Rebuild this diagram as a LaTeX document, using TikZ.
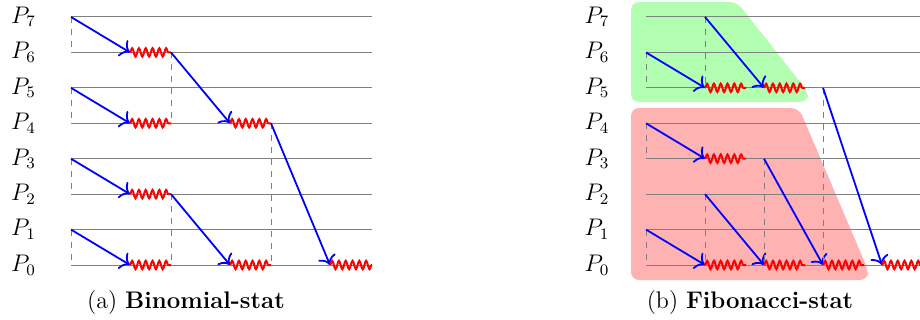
\documentclass[tikz,border=0pt]{standalone}
\usetikzlibrary{decorations.pathmorphing,arrows.meta}
\begin{document}
\begin{tikzpicture}[x=0.5pt,y=-0.5pt,font=\large,
  procline/.style={gray,line width=0.5pt},
  waitline/.style={gray,dashed,line width=0.5pt},
  msg/.style={blue,line width=0.9pt,-{To[scale=1.25]}},
  wave/.style={red,line width=1pt,decorate,decoration={snake,amplitude=2.1pt,segment length=3.4pt}},
  lbl/.style={inner sep=0pt},
  grp/.style={rounded corners=4pt}]
\clip (0,0) rectangle (920,320);
% rows
\foreach \i in {0,...,7} {\coordinate (r\i) at (0,{265-35.43*\i});}
% columns
\coordinate (xa0) at (71,0);  \coordinate (xa1) at (130,0); \coordinate (xa2) at (171,0);
\coordinate (xa3) at (230,0); \coordinate (xa4) at (271,0); \coordinate (xa5) at (330,0);
\coordinate (xa6) at (372,0);
\coordinate (xb0) at (646,0); \coordinate (xb1) at (705,0); \coordinate (xb1e) at (746,0);
\coordinate (xb2) at (764,0); \coordinate (xb2e) at (805,0); \coordinate (xb3) at (823,0);
\coordinate (xb3e) at (864,0); \coordinate (xb4) at (882,0); \coordinate (xb4e) at (923,0);
\coordinate (xbend) at (920,0);
% group backgrounds
\fill[green!30,grp] (631,2) -- (737,2) -- (808,92) -- (808,102) -- (631,102) -- cycle;
\fill[red!30,grp] (631,108) -- (799,108) -- (868,270) -- (868,280) -- (631,280) -- cycle;
% labels and process lines
\foreach \i in {0,...,7} {
  \node[lbl] (la\i) at (23.5,{265-35.43*\i}) {$P_{\i}$};
  \node[lbl] (lb\i) at (597,{265-35.43*\i}) {$P_{\i}$};
  \draw[procline] (xa0 |- r\i) -- (xa6 |- r\i);
  \draw[procline] (xb0 |- r\i) -- (xbend |- r\i);
}
% (a) binomial
\foreach \s/\t in {7/6,5/4,3/2,1/0} {
  \draw[waitline] (xa0 |- r\s) -- (xa0 |- r\t);
  \draw[msg] (xa0 |- r\s) -- (xa1 |- r\t);
  \draw[wave] (xa1 |- r\t) -- (xa2 |- r\t);
}
\foreach \s/\t in {6/4,2/0} {
  \draw[waitline] (xa2 |- r\s) -- (xa2 |- r\t);
  \draw[msg] (xa2 |- r\s) -- (xa3 |- r\t);
  \draw[wave] (xa3 |- r\t) -- (xa4 |- r\t);
}
\draw[waitline] (xa4 |- r4) -- (xa4 |- r0);
\draw[msg] (xa4 |- r4) -- (xa5 |- r0);
\draw[wave] (xa5 |- r0) -- (xa6 |- r0);
% (b) fibonacci
\foreach \s/\t in {6/5,4/3,1/0} {
  \draw[waitline] (xb0 |- r\s) -- (xb0 |- r\t);
  \draw[msg] (xb0 |- r\s) -- (xb1 |- r\t);
  \draw[wave] (xb1 |- r\t) -- (xb1e |- r\t);
}
\foreach \s/\t in {7/5,2/0} {
  \draw[waitline] (xb1 |- r\s) -- (xb1 |- r\t);
  \draw[msg] (xb1 |- r\s) -- (xb2 |- r\t);
  \draw[wave] (xb2 |- r\t) -- (xb2e |- r\t);
}
\draw[waitline] (xb2 |- r3) -- (xb2 |- r0);
\draw[msg] (xb2 |- r3) -- (xb3 |- r0);
\draw[wave] (xb3 |- r0) -- (xb3e |- r0);
\draw[waitline] (xb3 |- r5) -- (xb3 |- r0);
\draw[msg] (xb3 |- r5) -- (xb4 |- r0);
\draw[wave] (xb4 |- r0) -- (xb4e |- r0);
% captions
\node[anchor=base] (capa) at (186,308) {(a) \textbf{Binomial-stat}};
\node[anchor=base] (capb) at (750,308) {(b) \textbf{Fibonacci-stat}};
\end{tikzpicture}
\end{document}
